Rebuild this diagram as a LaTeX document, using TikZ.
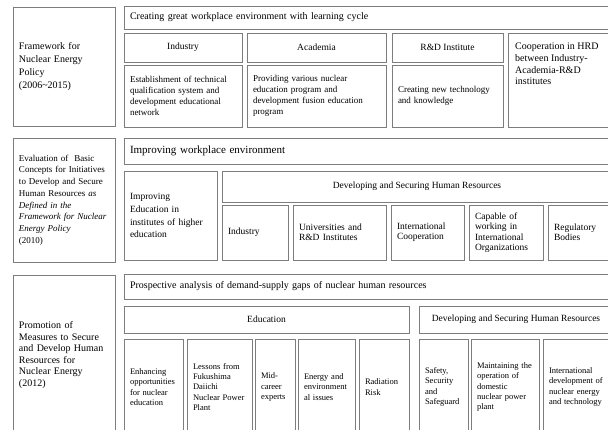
\documentclass[tikz,border=0pt]{standalone}
\usepackage{fontspec}
\setmainfont{Liberation Serif}
\definecolor{bordc}{RGB}{125,125,125}
\newcommand{\bx}[7]{%
  \pgfmathsetmacro{\bxw}{#4-#2}%
  \pgfmathsetmacro{\bxh}{#5-#3}%
  \pgfmathsetmacro{\bxt}{#4-#2-12}%
  \node[box,#6,minimum width=\bxw pt,minimum height=\bxh pt] (#1) at ({(#2+#4)/2},{(#3+#5)/2}) {#7};}
\tikzset{
  box/.style={draw=bordc, line width=0.9pt, inner ysep=0pt, text=black, outer sep=0pt},
  lbox/.style={align=left, text width=\bxt pt, inner xsep=6pt},
  cbox/.style={align=center, inner xsep=0pt},
  ftitle/.style={font=\fontsize{10}{13}\selectfont},
  fbar/.style={font=\fontsize{10}{12}\selectfont},
  fbig/.style={font=\fontsize{11}{13}\selectfont},
  fhead/.style={font=\fontsize{9.5}{12}\selectfont},
  fsmall/.style={font=\fontsize{9}{11}\selectfont},
  fsub/.style={font=\fontsize{9.5}{10.4}\selectfont},
  ftiny/.style={font=\fontsize{8.5}{10.4}\selectfont},
  txt/.style={inner sep=0pt, align=left, text=black}
}
\begin{document}
\begin{tikzpicture}[x=1pt,y=-1pt]
\clip (0,0) rectangle (608,429);
% ---------- Row 1 ----------
\bx{l1}{13}{7}{115}{126}{lbox,ftitle}{Framework for\\ Nuclear Energy\\ Policy\\ (2006\textasciitilde2015)}
\bx{t1}{124}{6}{614}{29}{lbox,fbar}{Creating great workplace environment with learning cycle}
\bx{h1a}{124}{33}{242}{62}{cbox,fhead}{Industry}
\bx{h1b}{247}{33}{386}{62}{cbox,fhead}{Academia}
\bx{h1c}{392}{33}{503}{62}{cbox,fhead}{R\&D Institute}
\bx{c1}{508}{33}{614}{127}{}{}
\node[txt, anchor=north west, font=\fontsize{10}{11.7}\selectfont] (c1t) at (515,43)
  {Cooperation in HRD\\ between Industry-\\ Academia-R\&D\\ institutes};
\bx{b1a}{124}{65}{242}{127}{lbox,fsmall}{Establishment of technical\\ qualification system and\\ development educational\\ network}
\bx{b1b}{247}{65}{386}{127}{lbox,fsmall}{Providing various nuclear\\ education program and\\ development fusion education\\ program}
\bx{b1c}{392}{65}{503}{127}{lbox,fsmall}{Creating new technology\\ and knowledge}
% ---------- Row 2 ----------
\bx{l2}{13}{138}{115}{262}{lbox,font=\fontsize{9}{11.7}\selectfont}{Evaluation of\ \ Basic\\ Concepts for Initiatives\\ to Develop and Secure\\ Human Resources \textit{as}\\ \textit{Defined in the}\\ \textit{Framework for Nuclear}\\ \textit{Energy Policy}\\ (2010)}
\bx{t2}{124}{138}{614}{164}{lbox,fbig}{Improving workplace environment}
\bx{b2a}{124}{171}{217}{260}{lbox,font=\fontsize{9.5}{12.8}\selectfont}{Improving\\ Education in\\ institutes of higher\\ education}
\bx{h2}{222}{171}{612}{202}{cbox,fhead}{Developing and Securing Human Resources}
\bx{s2a}{222}{205}{288}{260}{lbox,fsub}{Industry}
\bx{s2b}{293}{205}{386}{260}{lbox,fsub}{Universities and\\ R\&D Institutes}
\bx{s2c}{391}{205}{464}{260}{lbox,fsub}{International\\ Cooperation}
\bx{s2d}{469}{205}{543}{260}{lbox,fsub}{Capable of\\ working in\\ International\\ Organizations}
\bx{s2e}{548}{205}{614}{260}{lbox,fsub}{Regulatory\\ Bodies}
% ---------- Row 3 ----------
\bx{l3}{13}{275}{115}{435}{lbox,font=\fontsize{10}{11.5}\selectfont}{Promotion of\\ Measures to Secure\\ and Develop Human\\ Resources for\\ Nuclear Energy\\ (2012)}
\bx{t3}{124}{274}{614}{299}{lbox,fbar}{Prospective analysis of demand-supply gaps of nuclear human resources}
\bx{h3a}{124}{306}{409}{333}{cbox,fhead}{Education}
\bx{h3b}{419}{306}{613}{333}{cbox,fhead}{Developing and Securing Human Resources}
\bx{s3a}{124}{339}{183}{435}{lbox,ftiny}{Enhancing\\ opportunities\\ for nuclear\\ education}
\bx{s3b}{187}{339}{252}{435}{lbox,ftiny}{Lessons from\\ Fukushima\\ Daiichi\\ Nuclear Power\\ Plant}
\bx{s3c}{255}{339}{295}{435}{lbox,ftiny}{Mid-\\ career\\ experts}
\bx{s3d}{298}{339}{355}{435}{lbox,ftiny}{Energy and\\ environment\\ al issues}
\bx{s3e}{359}{339}{409}{435}{lbox,ftiny}{Radiation\\ Risk}
\bx{s3f}{419}{339}{468}{435}{lbox,ftiny}{Safety,\\ Security\\ and\\ Safeguard}
\bx{s3g}{471}{339}{539}{435}{lbox,ftiny}{Maintaining the\\ operation of\\ domestic\\ nuclear power\\ plant}
\bx{s3h}{543}{339}{614}{435}{lbox,ftiny}{International\\ development of\\ nuclear energy\\ and technology}
\end{tikzpicture}
\end{document}
